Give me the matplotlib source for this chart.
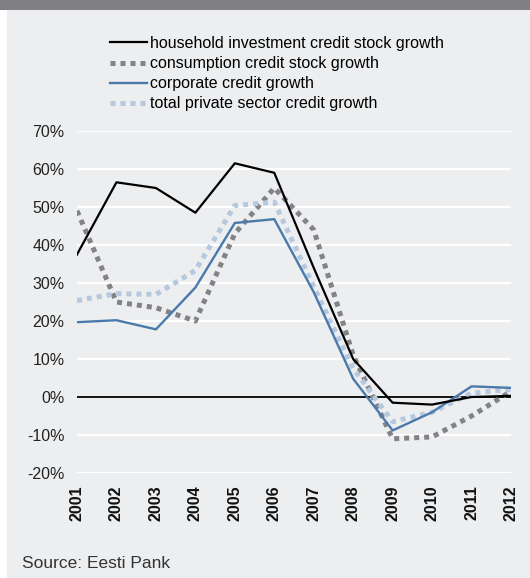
import matplotlib.pyplot as plt
import matplotlib.patches as mpatches
import numpy as np

plt.rcParams["font.family"] = ["Liberation Sans", "DejaVu Sans"]

years = [2001, 2002, 2003, 2004, 2005, 2006, 2007, 2008, 2009, 2010, 2011, 2012]
household = [37.5, 56.5, 55.0, 48.5, 61.5, 59.0, 34.0, 10.0, -1.5, -2.0, 0.0, 0.3]
consumption = [49.0, 25.0, 23.5, 20.0, 43.0, 55.0, 44.0, 11.0, -11.0, -10.5, -5.0, 1.5]
corporate = [19.7, 20.2, 17.8, 28.8, 45.8, 46.8, 27.6, 4.8, -8.8, -4.0, 2.8, 2.4]
total = [25.4, 27.2, 27.0, 33.3, 50.4, 51.3, 29.0, 7.5, -6.5, -4.0, 1.0, 2.0]

labels = [
    "household investment credit stock growth",
    "consumption credit stock growth",
    "corporate credit growth",
    "total private sector credit growth",
]
y_ticks = [-20, -10, 0, 10, 20, 30, 40, 50, 60, 70]
source = "Source: Eesti Pank"

BG = "#edeef0"

fig = plt.figure(figsize=(5.3, 5.78), dpi=100)
fig.patch.set_facecolor("white")
# panel background and top band
fig.patches.append(mpatches.Rectangle((7 / 530, 0), 1, 1, transform=fig.transFigure,
                                      facecolor=BG, edgecolor="none", zorder=-2))
fig.patches.append(mpatches.Rectangle((0, 1 - 10 / 578), 1, 10 / 578, transform=fig.transFigure,
                                      facecolor="#808084", edgecolor="none", zorder=-1))

ax = fig.add_axes([77 / 530, 1 - 473 / 578, 434 / 530, 342 / 578])
ax.set_facecolor(BG)
for s in ax.spines.values():
    s.set_visible(False)

for t in y_ticks:
    ax.axhline(t, color="white", lw=1.6, zorder=1)
ax.axhline(0, color="black", lw=1.3, zorder=2)

ax.plot(years, household, color="black", lw=1.6, zorder=5, label=labels[0])
ax.plot(years, consumption, color="#838385", lw=3.6, ls=(0, (1, 1)),
        dash_capstyle="butt", zorder=3, label=labels[1])
ax.plot(years, corporate, color="#4a79ab", lw=1.7, zorder=4, label=labels[2])
ax.plot(years, total, color="#b5c8de", lw=3.6, ls=(0, (1, 1)),
        dash_capstyle="butt", zorder=3, label=labels[3])

ax.set_xlim(years[0], years[-1])
ax.set_ylim(-20, 70)
ax.set_yticks(y_ticks)
ax.set_yticklabels([f"{t}%" for t in y_ticks], fontsize=11.5, color="#222222")
ax.set_xticks(years)
ax.set_xticklabels([str(y) for y in years], rotation=90, fontsize=11.5,
                   fontweight="bold", color="#111111")
ax.tick_params(axis="both", length=0)
ax.tick_params(axis="y", pad=9)
ax.tick_params(axis="x", pad=9)

leg = fig.legend(loc="upper left", bbox_to_anchor=(110 / 530, 1 - 36 / 578),
                 frameon=False, fontsize=11.5, handlelength=2.3, handletextpad=0.2,
                 labelspacing=0.32, borderaxespad=0, borderpad=0)

fig.text(22 / 530, 1 - 564 / 578, source, fontsize=12.5, color="#333333", va="center")

fig.savefig("out.png", dpi=100, facecolor=fig.get_facecolor())
